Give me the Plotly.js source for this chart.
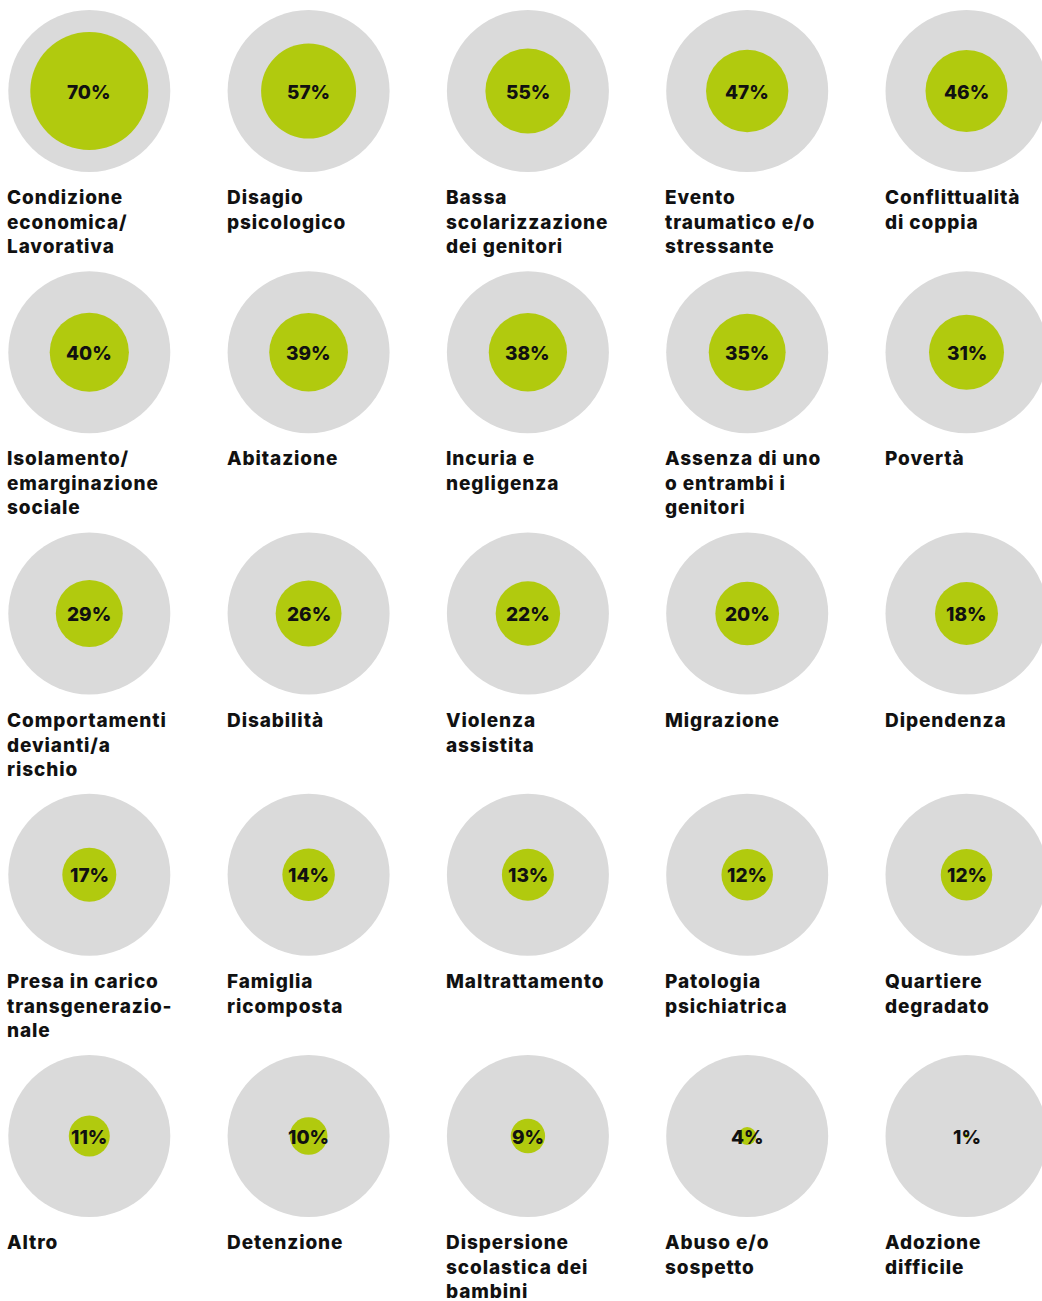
<!DOCTYPE html>
<html>
<head>
<meta charset="utf-8">
<script src="https://cdn.plot.ly/plotly-3.0.1.min.js"></script>
<style>
  html, body { margin: 0; padding: 0; background: #ffffff; }
  #chart { width: 1042px; height: 1301px; }
  .label-ann .annotation-text { letter-spacing: 0.9px; }
</style>
</head>
<body>
<div id="chart"></div>
<script>
// ---- Data ----
const categories = [
  "Condizione<br>economica/<br>Lavorativa",
  "Disagio<br>psicologico",
  "Bassa<br>scolarizzazione<br>dei genitori",
  "Evento<br>traumatico e/o<br>stressante",
  "Conflittualità<br>di coppia",
  "Isolamento/<br>emarginazione<br>sociale",
  "Abitazione",
  "Incuria e<br>negligenza",
  "Assenza di uno<br>o entrambi i<br>genitori",
  "Povertà",
  "Comportamenti<br>devianti/a<br>rischio",
  "Disabilità",
  "Violenza<br>assistita",
  "Migrazione",
  "Dipendenza",
  "Presa in carico<br>transgenerazio-<br>nale",
  "Famiglia<br>ricomposta",
  "Maltrattamento",
  "Patologia<br>psichiatrica",
  "Quartiere<br>degradato",
  "Altro",
  "Detenzione",
  "Dispersione<br>scolastica dei<br>bambini",
  "Abuso e/o<br>sospetto",
  "Adozione<br>difficile"
];
const values = [70, 57, 55, 47, 46, 40, 39, 38, 35, 31, 29, 26, 22, 20, 18, 17, 14, 13, 12, 12, 11, 10, 9, 4, 1];
const maxValue = 100;

// ---- Layout grid / styles ----
const NCOLS = 5;
const COL_STEP = 219.3, ROW_STEP = 261.25;   // px between grid cells
const FIRST_X = 89.3, FIRST_Y = 91;          // px centre of first cell
const W = 1042, H = 1301;
const BG_DIAM = 162;
const GREY = "#dadada", GREEN = "#b1ca0e", INK = "#111111";
const FONT = "Inter, 'DejaVu Sans', sans-serif";

// size scale (value -> marker diameter in px), piecewise linear like the original graphic
const sizeDomain = [0, 4, 11, 12, 17, 18, 29, 31, 46, 55, 57, 70, 100];
const sizeRange  = [0, 18, 41, 51.5, 54, 63, 67, 75, 82, 85, 95, 118, 162];
function sizeScale(v) {
  for (let i = 1; i < sizeDomain.length; i++) {
    if (v <= sizeDomain[i]) {
      const t = (v - sizeDomain[i - 1]) / (sizeDomain[i] - sizeDomain[i - 1]);
      return sizeRange[i - 1] + t * (sizeRange[i] - sizeRange[i - 1]);
    }
  }
  return sizeRange[sizeRange.length - 1];
}

const xs = values.map((_, i) => i % NCOLS);
const ys = values.map((_, i) => Math.floor(i / NCOLS));

const bgTrace = {
  type: "scatter", mode: "markers",
  x: xs, y: ys,
  marker: { size: values.map(() => maxValue).map(sizeScale), color: GREY, opacity: 1, line: { width: 0 } },
  hoverinfo: "skip", showlegend: false
};
const valTrace = {
  type: "scatter", mode: "markers",
  x: xs, y: ys,
  marker: { size: values.map(sizeScale), color: GREEN, opacity: 1, line: { width: 0 } },
  text: values.map(v => v + "%"),
  hovertemplate: "%{text}<extra></extra>", showlegend: false
};

const pctAnnotations = values.map((v, i) => ({
  x: xs[i], y: ys[i], xref: "x", yref: "y",
  text: v + "%", showarrow: false,
  xanchor: "center", yanchor: "middle",
  yshift: -1,
  font: { family: FONT, size: 19, color: INK, weight: 800 }
}));
const labelAnnotations = categories.map((c, i) => ({
  x: xs[i], y: ys[i], xref: "x", yref: "y",
  text: c, showarrow: false,
  xanchor: "left", yanchor: "top", align: "left",
  xshift: -84, yshift: -93,
  font: { family: FONT, size: 19, color: INK, weight: 800 }
}));

const x0 = -FIRST_X / COL_STEP;
const y0 = -FIRST_Y / ROW_STEP;
const layout = {
  width: W, height: H,
  margin: { l: 0, r: 0, t: 0, b: 0, pad: 0 },
  paper_bgcolor: "#ffffff", plot_bgcolor: "#ffffff",
  xaxis: { range: [x0, x0 + W / COL_STEP], visible: false, fixedrange: true },
  yaxis: { range: [y0 + H / ROW_STEP, y0], visible: false, fixedrange: true },
  annotations: pctAnnotations.concat(labelAnnotations),
  showlegend: false
};

Plotly.newPlot("chart", [bgTrace, valTrace], layout, { displayModeBar: false, staticPlot: true }).then(gd => {
  // tag the category-label annotations so the letter-spacing style applies to them only
  const groups = gd.querySelectorAll(".annotation");
  groups.forEach((g, idx) => { if (idx >= values.length) g.classList.add("label-ann"); });
});
</script>
</body>
</html>
